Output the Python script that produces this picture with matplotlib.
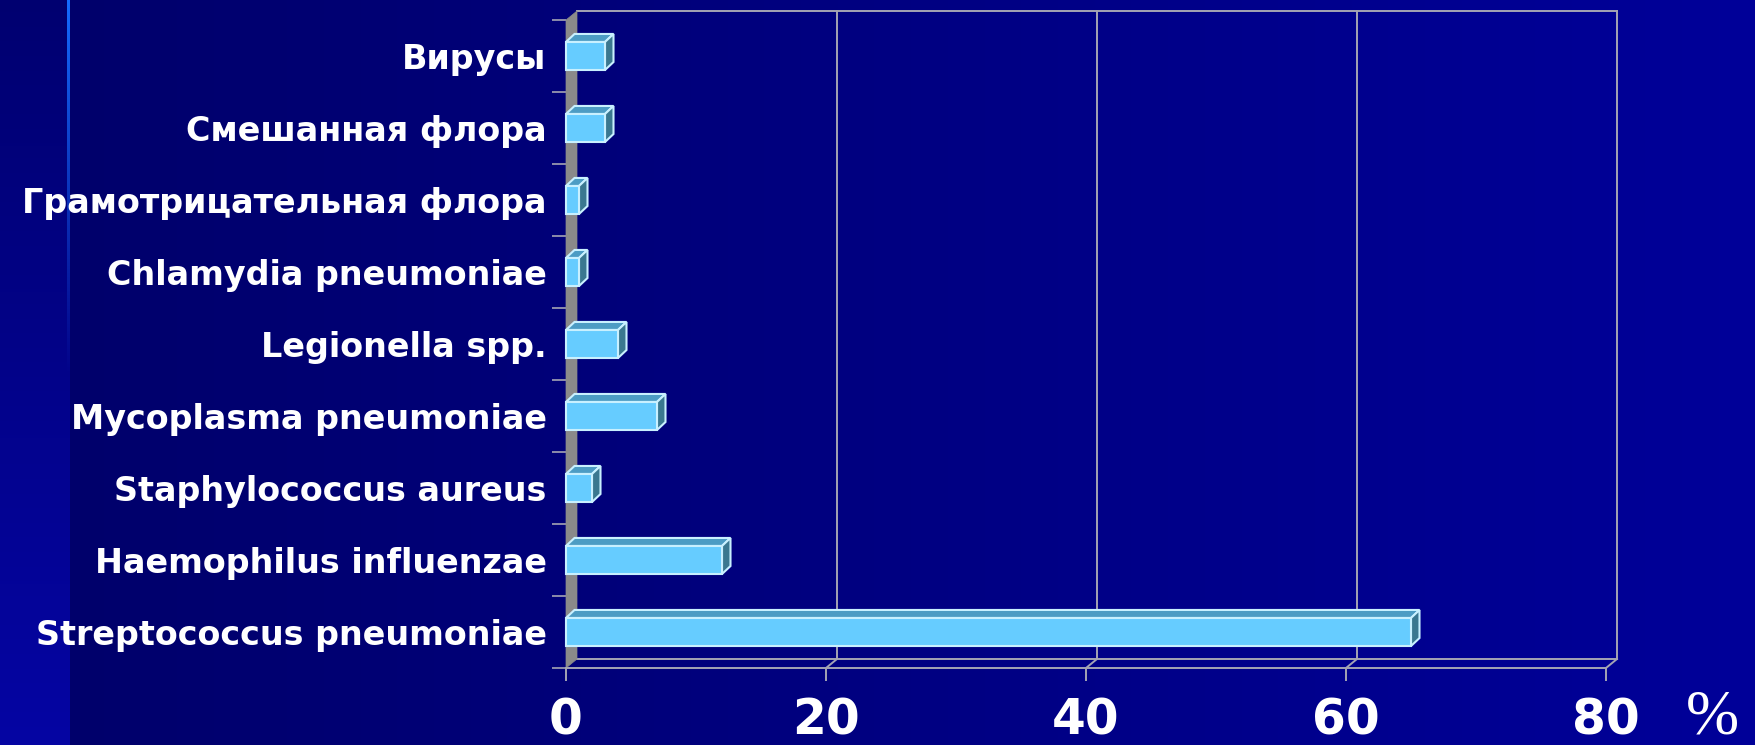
"""
Bar chart: aetiology of community-acquired pneumonia (3D style bars)
"""

import matplotlib

matplotlib.use('Agg')
import matplotlib.pyplot as plt
import numpy as np
from matplotlib.patches import Polygon

# data (top to bottom as in the picture)
categories = [
    'Вирусы',
    'Смешанная флора',
    'Грамотрицательная флора',
    'Chlamydia pneumoniae',
    'Legionella spp.',
    'Mycoplasma pneumoniae',
    'Staphylococcus aureus',
    'Haemophilus influenzae',
    'Streptococcus pneumoniae',
]
values = [3, 3, 1, 1, 4, 7, 2, 12, 65]
x_ticks = [0, 20, 40, 60, 80]
unit_label = '%'

W, H = 1756, 745
fig = plt.figure(figsize=(W / 100, H / 100), dpi=100)

# background: strip on the left + horizontal gradient
bg = fig.add_axes([0, 0, 1, 1])
bg.set_axis_off()
img = np.zeros((H, W, 3))
split = 70
t = np.linspace(0, 1, W - split)
img[:, split:, 2] = (0.42 + 0.18 * t)[None, :]
tv = np.linspace(0, 1, H)
img[:, :split, 2] = (0.44 + 0.2 * tv)[:, None]
img[:, :split, 0] = (0.02 * tv)[:, None]
img[:, :split, 1] = (0.02 * tv)[:, None]
# bright thin line at the strip border, fading downwards
fade = np.clip(1 - tv / 0.5, 0, 1)
for c, v in zip(range(3), (0.08, 0.42, 1.0)):
    base = img[:, split - 3:split, c]
    img[:, split - 3:split, c] = base * (1 - fade[:, None]) + v * fade[:, None]
bg.imshow(img, extent=[0, 1, 0, 1], aspect='auto')
bg.set_xlim(0, 1)
bg.set_ylim(0, 1)

# main axes = front plane of the 3D box
ax_l, ax_r, ax_b, ax_t = 566, 1606, 745 - 668, 745 - 20
ax = fig.add_axes([ax_l / W, ax_b / H, (ax_r - ax_l) / W, (ax_t - ax_b) / H])
ax.patch.set_visible(False)
n = len(categories)
ypos = np.arange(n)[::-1]
ax.set_xlim(0, 80)
ax.set_ylim(-0.5, n - 0.5)

px_x = (ax_r - ax_l) / 80.0
px_y = (ax_t - ax_b) / n
DX, DY = 11 / px_x, 9 / px_y  # wall depth
BX, BY = 8.5 / px_x, 8 / px_y  # bar depth
grid_c = '#a4a4b4'
y0, y1 = -0.5, n - 0.5

# back wall gridlines + frame
for xv in x_ticks[1:]:
    ax.plot([xv + DX, xv + DX], [y0 + DY, y1 + DY], color=grid_c, lw=1.4, clip_on=False, zorder=1)
    ax.plot([xv, xv + DX], [y0, y0 + DY], color=grid_c, lw=1.4, clip_on=False, zorder=1)
ax.plot([DX, 80 + DX], [y1 + DY, y1 + DY], color=grid_c, lw=1.4, clip_on=False, zorder=1)
ax.plot([DX, 80 + DX], [y0 + DY, y0 + DY], color=grid_c, lw=1.4, clip_on=False, zorder=1)

# left wall
wall = Polygon([(0, y0), (0, y1), (DX, y1 + DY), (DX, y0 + DY)], closed=True,
               facecolor='#8a8a8a', edgecolor='#8a8a8a', lw=0.5, clip_on=False, zorder=2)
ax.add_patch(wall)

# bars
front_c, top_c, side_c, edge_c = '#66ccff', '#4c9cc4', '#3a7890', '#c8f0ff'
bh = 0.39
ax.barh(ypos, values, height=bh, color=front_c, edgecolor=edge_c, lw=1.5, zorder=4, clip_on=False)
for yv, v in zip(ypos, values):
    top = Polygon([(0, yv + bh / 2), (v, yv + bh / 2), (v + BX, yv + bh / 2 + BY), (BX, yv + bh / 2 + BY)],
                  closed=True, facecolor=top_c, edgecolor=edge_c, lw=1.5, zorder=3, clip_on=False)
    side = Polygon([(v, yv - bh / 2), (v, yv + bh / 2), (v + BX, yv + bh / 2 + BY), (v + BX, yv - bh / 2 + BY)],
                   closed=True, facecolor=side_c, edgecolor=edge_c, lw=1.5, zorder=3, clip_on=False)
    ax.add_patch(top)
    ax.add_patch(side)

# spines / ticks
for s in ('top', 'right', 'left'):
    ax.spines[s].set_visible(False)
ax.spines['bottom'].set_color(grid_c)
ax.spines['bottom'].set_linewidth(1.4)
ax.set_xticks(x_ticks)
ax.set_xticklabels([str(v) for v in x_ticks], fontsize=35, fontweight='bold', color='white')
ax.tick_params(axis='x', colors=grid_c, labelcolor='white', length=9.5, width=1.4, pad=11)
ax.set_yticks(ypos)
ax.set_yticklabels(categories, fontsize=24, fontweight='bold', color='white')
ax.set_yticks(np.arange(-0.5, n, 1.0), minor=True)
ax.tick_params(axis='y', which='major', length=0, pad=14)
ax.tick_params(axis='y', which='minor', length=10, width=1.2, colors=grid_c)
for lab in ax.get_xticklabels() + ax.get_yticklabels():
    lab.set_fontfamily('DejaVu Sans')

fig.text(1712 / W, (745 - 718) / H, unit_label, fontsize=46, family='Liberation Serif',
         color='white', ha='center', va='center')

fig.savefig('out.png', dpi=100)
